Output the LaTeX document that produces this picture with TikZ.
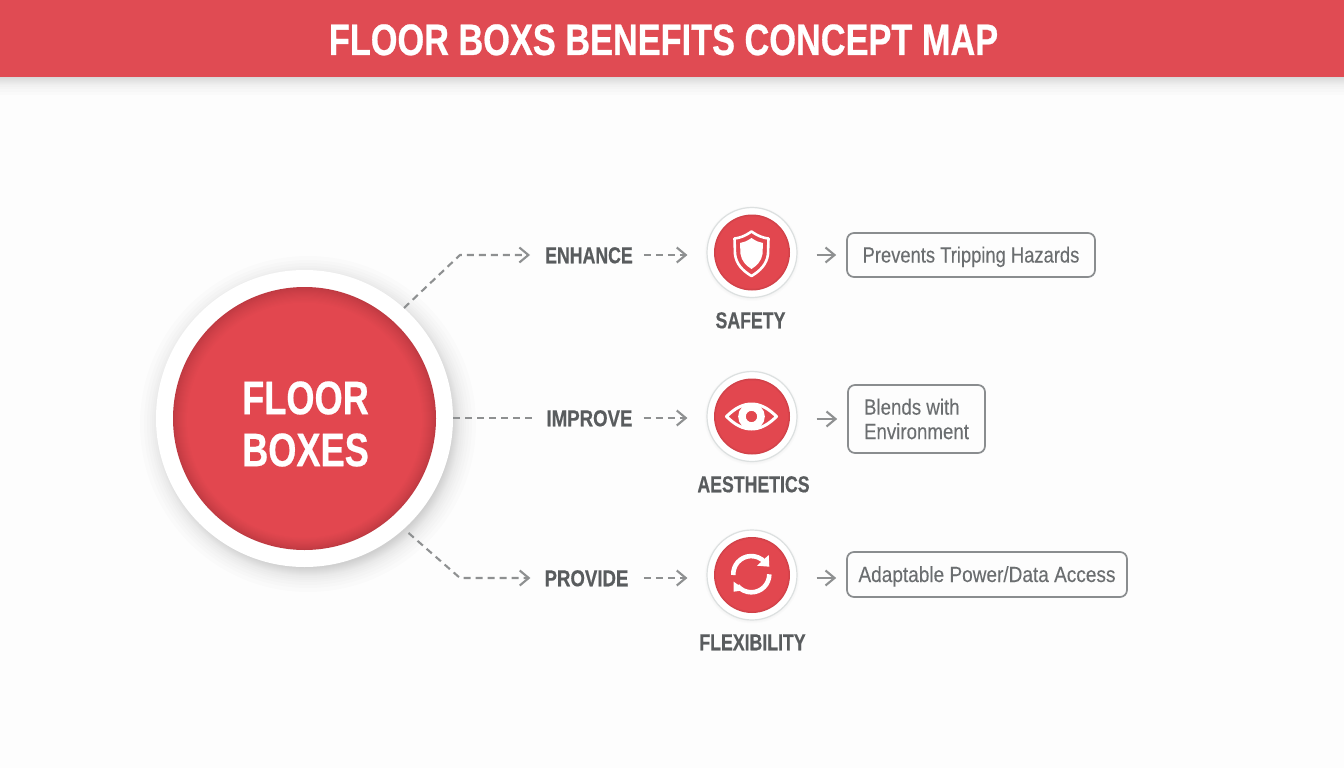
\documentclass[tikz,border=0pt]{standalone}
\usepackage{fontspec}
\usetikzlibrary{arrows.meta}
\newfontfamily\boldcond[FakeStretch=0.77,BoldFeatures={FakeBold=0.5}]{Liberation Sans}
\newfontfamily\boldwide[FakeStretch=0.81,BoldFeatures={FakeBold=0.5}]{Liberation Sans}
\newfontfamily\titlecond[FakeStretch=0.78,BoldFeatures={FakeBold=0.6}]{Liberation Sans}
\newfontfamily\regnarrow[FakeStretch=0.835,FakeBold=0.15]{Liberation Sans}
\newfontfamily\regcond[FakeStretch=0.85,FakeBold=0.15]{Liberation Sans}
\newfontfamily\regwide[FakeStretch=0.865,FakeBold=0.15]{Liberation Sans}
\definecolor{bgc}{HTML}{FDFDFD}
\definecolor{banner}{HTML}{E04B53}
\definecolor{redA}{HTML}{E2474F}
\definecolor{redB}{HTML}{BE3A42}
\definecolor{ringc}{HTML}{DCE0E0}
\definecolor{linec}{HTML}{8E9091}
\definecolor{boxc}{HTML}{8A8D8F}
\definecolor{labc}{HTML}{595C5E}
\definecolor{txtc}{HTML}{6B6E70}
\tikzset{
  x=1pt,y=-1pt,
  titletext/.style={text=white,inner sep=0pt,font=\titlecond\bfseries\fontsize{44}{44}\selectfont,text height=32pt,text depth=0pt},
  maintext/.style={text=white,inner sep=0pt,align=center,font=\boldcond\bfseries\fontsize{47}{52}\selectfont},
  maindisc/.style={circle,fill=white,minimum size=297pt,inner sep=0pt},
  smalldisc/.style={circle,fill=white,draw=ringc,line width=1.2pt,minimum size=90pt,inner sep=0pt},
  verbtext/.style={text=labc,inner xsep=11pt,inner ysep=0pt,font=\boldcond\bfseries\fontsize{23}{23}\selectfont,text height=16.5pt,text depth=0pt},
  captext/.style={text=labc,inner sep=0pt,font=\boldcond\bfseries\fontsize{23}{23}\selectfont,text height=16.5pt,text depth=0pt},
  benefit/.style={draw=boxc,line width=1.7pt,rounded corners=7pt,fill=bgc,inner sep=0pt,text=txtc,font=\regcond\fontsize{22}{24.5}\selectfont},
  dashline/.style={draw=linec,line width=2.1pt,dash pattern=on 7pt off 5pt},
  tipline/.style={dashline,-{Straight Barb[length=9pt,width=15pt,line width=2.1pt]}},
  solidtip/.style={draw=linec,line width=2.1pt,-{Straight Barb[length=9pt,width=15pt,line width=2.1pt]}},
  icon/.style={draw=white,line width=2.6pt,line join=round},
}
\begin{document}
\begin{tikzpicture}
\useasboundingbox (0,0) rectangle (1344,768);
\fill[bgc] (0,0) rectangle (1344,768);
% banner
\foreach \h in {78,79,80,81,82,83,84,85,87,89,92,95}{\fill[black,opacity=.011] (0,0) rectangle (1344,\h);}
\fill[banner] (0,0) rectangle (1344,77);
\node[titletext] (title) at (663.5,39) {FLOOR BOXS BENEFITS CONCEPT MAP};
% central circle
\foreach \r in {144,145,146,147,148,149,150,151,152,154,156,158,161,164,168}{\fill[black,opacity=.013] (308,424) circle[radius=\r pt];}
\node[maindisc] (main) at (304.5,418.5) {};
\foreach \i in {0,1,...,14}{
  \pgfmathsetmacro{\pct}{100-(\i/14)^0.7*100}
  \pgfmathsetmacro{\yy}{418.5+\i*0.12}
  \pgfmathsetmacro{\rr}{131.5-\i}
  \fill[redB!\pct!redA] (304.5,\yy) circle[radius=\rr pt];
}
\node[maintext] (maintxt) at (305.5,424) {FLOOR\\BOXES};
% verbs
\node[verbtext] (enh) at (589,255) {ENHANCE};
\node[verbtext,font=\boldwide\bfseries\fontsize{23}{23}\selectfont] (imp) at (589.5,418) {IMPROVE};
\node[verbtext,font=\boldwide\bfseries\fontsize{23}{23}\selectfont] (pro) at (586.5,578) {PROVIDE};
% small circles
\foreach \y in {252.5,416.5,575}{\foreach \r in {45.5,46.5,47.5}{\fill[black,opacity=.012] (752,\y+1) circle[radius=\r pt];}}
\node[smalldisc] (safety) at (752,252.5) {};
\node[smalldisc] (aest) at (752,416.5) {};
\node[smalldisc] (flex) at (752,575) {};
\foreach \y in {252.5,416.5,575}{
  \fill[redB!50!redA] (752,\y) circle[radius=38pt];
  \fill[redB!25!redA] (752,\y) circle[radius=37pt];
  \fill[redA] (752,\y) circle[radius=36pt];
}
% captions
\node[captext] (safetycap) at (750.5,320) {SAFETY};
\node[captext] (aestcap) at (753.5,484) {AESTHETICS};
\node[captext] (flexcap) at (752.5,642) {FLEXIBILITY};
% boxes
\node[benefit,font=\regnarrow\fontsize{22}{24.5}\selectfont,minimum width=248pt,minimum height=44pt,text height=15pt,text depth=0pt] (box1) at (971,255) {Prevents Tripping Hazards};
\node[benefit,minimum width=137pt,minimum height=68pt,align=left] (box2) at (916.5,419) {Blends with\\Environment};
\node[benefit,font=\regwide\fontsize{22}{24.5}\selectfont,minimum width=280pt,minimum height=45pt,text height=15pt,text depth=0pt] (box3) at (987,574.5) {Adaptable Power/Data Access};
% connectors
\coordinate (bendA) at (460,255);
\coordinate (bendC) at (460,578);
\draw[tipline,shorten >=4pt] (main.48) -- (bendA) -- (enh.west);
\draw[dashline] (main.east |- imp.west) -- (imp.west);
\draw[tipline,shorten <=6pt,shorten >=3pt] (main.312) -- (bendC) -- (pro.west);
\draw[tipline,shorten >=19pt] (enh.east) -- (safety.west |- enh.east);
\draw[tipline,shorten >=19pt] (imp.east) -- (aest.west |- imp.east);
\draw[tipline,shorten >=19pt] (pro.east -| enh.east) -- (flex.west |- pro.east);
\draw[solidtip,shorten <=19pt,shorten >=10pt] (safety.east |- box1.west) -- (box1.west);
\draw[solidtip,shorten <=19pt,shorten >=10pt] (aest.east |- box2.west) -- (box2.west);
\draw[solidtip,shorten <=19pt,shorten >=10pt] (flex.east |- pro.east) -- (box3.west |- pro.east);
% shield icon
\draw[icon] (751.5,231.5) .. controls (745,236) and (740,238) .. (734.5,238.5) -- (735,254) .. controls (736,264) and (743,271) .. (751.5,276) .. controls (760,271) and (767,264) .. (768,254) -- (768.5,238.5) .. controls (763,238) and (758,236) .. (751.5,231.5) -- cycle;
\fill[white] (751.5,238) .. controls (747,241) and (744,242.5) .. (740,243) -- (740.5,254) .. controls (741.5,261) and (746,265.5) .. (751.5,269) .. controls (757,265.5) and (761.5,261) .. (762.5,254) -- (763,243) .. controls (759,242.5) and (756,241) .. (751.5,238) -- cycle;
% eye icon
\draw[icon,line width=3pt] (726.5,416.5) .. controls (735,408) and (743,404) .. (751.5,404) .. controls (760,404) and (768,408) .. (776.5,416.5) .. controls (768,425) and (760,429) .. (751.5,429) .. controls (743,429) and (735,425) .. (726.5,416.5) -- cycle;
\draw[draw=white,line width=7.5pt] (751.5,416.5) circle[radius=9.5pt];
% refresh icon
\draw[draw=white,line width=4.6pt] (733.3,575) arc[start angle=183,end angle=42,radius=18pt];
\fill[white] (768.7,555) -- (769.3,566.7) -- (757,565.7) -- cycle;
\draw[draw=white,line width=4.6pt] (769.3,574.3) arc[start angle=0,end angle=-140,radius=18pt];
\fill[white] (733.7,581.7) -- (733.7,591.7) -- (745.3,590) -- cycle;
\end{tikzpicture}
\end{document}
